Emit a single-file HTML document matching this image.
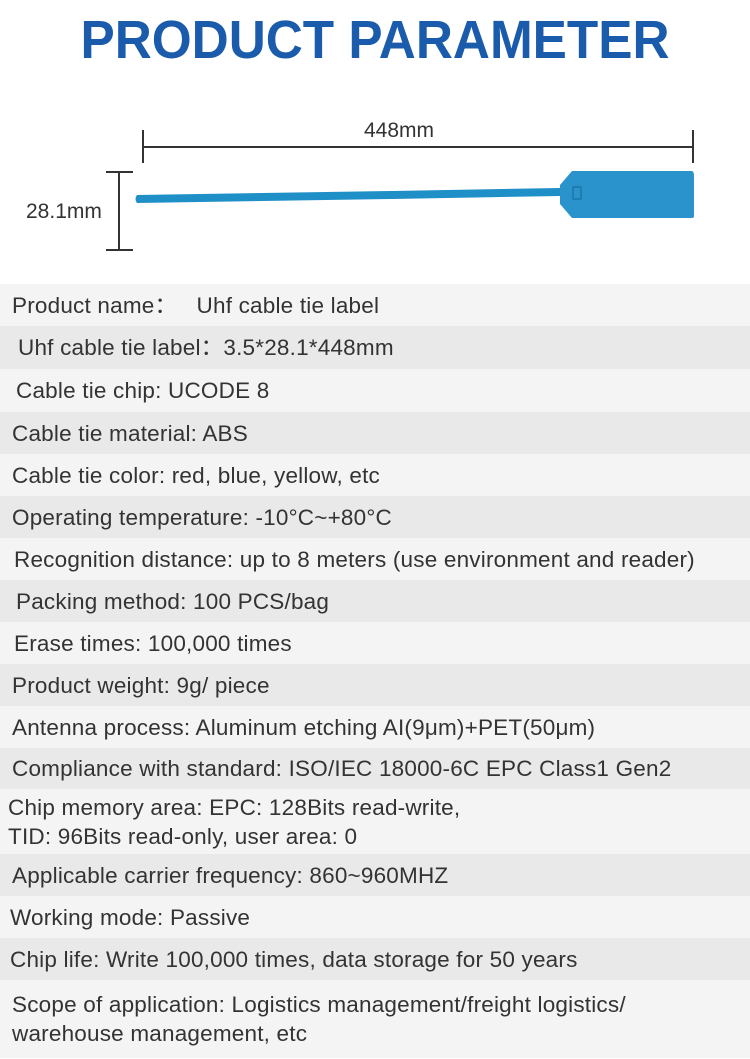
<!DOCTYPE html>
<html><head><meta charset="utf-8"><style>
body{margin:0;width:750px;height:1059px;background:#fff;position:relative;overflow:hidden;font-family:"Liberation Sans",sans-serif;}
h1{position:absolute;top:9px;left:0;width:750px;margin:0;text-align:center;font-size:54px;font-weight:bold;color:#1a5cab;transform:scaleX(0.95);}
.r{position:absolute;left:0;width:750px;color:#333;font-size:22.5px;letter-spacing:0.2px;box-sizing:border-box;display:flex;align-items:center;line-height:29px;white-space:nowrap;}
.a{background:#f4f4f4}.b{background:#e9e9e9}
.t{position:absolute;color:#333;font-size:21px;}
</style></head><body>
<h1>PRODUCT PARAMETER</h1>
<div class="t" style="left:364px;top:119px">448mm</div>
<div class="t" style="left:26px;top:200px">28.1mm</div>
<svg width="750" height="280" style="position:absolute;left:0;top:0">
<g stroke="#333" stroke-width="2" fill="none">
<line x1="143" y1="130" x2="143" y2="163"/><line x1="693" y1="130" x2="693" y2="163"/><line x1="143" y1="147" x2="693" y2="147"/>
<line x1="119" y1="172" x2="119" y2="250"/><line x1="106" y1="172" x2="133" y2="172"/><line x1="106" y1="250" x2="133" y2="250"/>
</g>
<path d="M137 195 L392 191 L560 188 L560 196 L392 199 L137 203 Q134 199 137 195 Z" fill="#1f8fc8"/>
<path d="M560 185 L572 171 L692 171 Q694 172 694 175 L694 216 Q694 218 692 218 L572 218 L560 204 Z" fill="#2a93cc"/>
<rect x="573" y="187" width="8" height="12" fill="none" stroke="#1a78ab" stroke-width="1.5"/>
</svg>
<div class="r a" style="top:284px;height:42px;padding-left:12px">Product name：&nbsp;&nbsp;&nbsp;Uhf cable tie label</div>
<div class="r b" style="top:326px;height:43px;padding-left:18px">Uhf cable tie label：3.5*28.1*448mm</div>
<div class="r a" style="top:369px;height:43px;padding-left:16px">Cable tie chip: UCODE 8</div>
<div class="r b" style="top:412px;height:42px;padding-left:12px">Cable tie material: ABS</div>
<div class="r a" style="top:454px;height:42px;padding-left:12px">Cable tie color: red, blue, yellow, etc</div>
<div class="r b" style="top:496px;height:42px;padding-left:12px">Operating temperature: -10°C~+80°C</div>
<div class="r a" style="top:538px;height:42px;padding-left:14px">Recognition distance: up to 8 meters (use environment and reader)</div>
<div class="r b" style="top:580px;height:42px;padding-left:16px">Packing method: 100 PCS/bag</div>
<div class="r a" style="top:622px;height:42px;padding-left:14px">Erase times: 100,000 times</div>
<div class="r b" style="top:664px;height:42px;padding-left:12px">Product weight: 9g/ piece</div>
<div class="r a" style="top:706px;height:42px;padding-left:12px">Antenna process: Aluminum etching AI(9μm)+PET(50μm)</div>
<div class="r b" style="top:748px;height:41px;padding-left:12px">Compliance with standard: ISO/IEC 18000-6C EPC Class1 Gen2</div>
<div class="r a" style="top:789px;height:65px;padding-left:8px">Chip memory area: EPC: 128Bits read-write,<br>TID: 96Bits read-only, user area: 0</div>
<div class="r b" style="top:854px;height:42px;padding-left:12px">Applicable carrier frequency: 860~960MHZ</div>
<div class="r a" style="top:896px;height:42px;padding-left:10px">Working mode: Passive</div>
<div class="r b" style="top:938px;height:42px;padding-left:10px">Chip life: Write 100,000 times, data storage for 50 years</div>
<div class="r a" style="top:980px;height:78px;padding-left:12px">Scope of application: Logistics management/freight logistics/<br>warehouse management, etc</div>
</body></html>
